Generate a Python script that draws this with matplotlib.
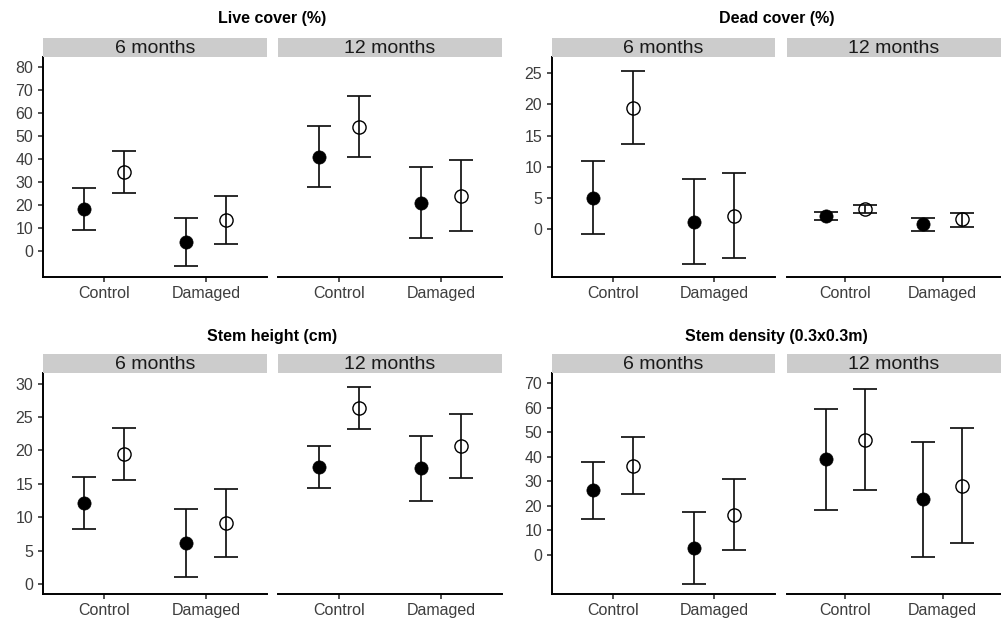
import numpy as np
import matplotlib
matplotlib.use("Agg")
import matplotlib.pyplot as plt

# ============================
# DATA
# order: 6m-Control, 6m-Damaged, 12m-Control, 12m-Damaged
# ============================
groups = ["Control", "Damaged"]
periods = ["6 months", "12 months"]

live_filled_mean = [18.1, 4.1, 41.0, 21.0]
live_filled_lo = [9.0, -6.4, 27.8, 5.7]
live_filled_hi = [27.2, 14.2, 54.2, 36.4]
live_open_mean = [34.2, 13.5, 53.9, 24.1]
live_open_lo = [25.1, 3.0, 40.9, 8.8]
live_open_hi = [43.5, 23.9, 67.1, 39.4]

dead_filled_mean = [5.1, 1.2, 2.1, 0.8]
dead_filled_lo = [-0.7, -5.6, 1.5, -0.3]
dead_filled_hi = [11.0, 8.0, 2.8, 1.9]
dead_open_mean = [19.4, 2.2, 3.2, 1.6]
dead_open_lo = [13.6, -4.5, 2.6, 0.4]
dead_open_hi = [25.3, 9.0, 3.9, 2.7]

height_filled_mean = [12.1, 6.1, 17.5, 17.3]
height_filled_lo = [8.2, 1.0, 14.4, 12.5]
height_filled_hi = [16.0, 11.2, 20.7, 22.1]
height_open_mean = [19.4, 9.1, 26.3, 20.6]
height_open_lo = [15.5, 4.0, 23.2, 15.8]
height_open_hi = [23.3, 14.2, 29.5, 25.4]

density_filled_mean = [26.3, 2.6, 38.9, 22.8]
density_filled_lo = [14.5, -12.0, 18.3, -0.8]
density_filled_hi = [37.9, 17.3, 59.6, 46.2]
density_open_mean = [36.4, 16.2, 46.9, 28.2]
density_open_lo = [24.7, 1.8, 26.3, 4.8]
density_open_hi = [48.2, 30.8, 67.5, 51.8]

panels = [
    ("Live cover (%)", (live_filled_mean, live_filled_lo, live_filled_hi),
     (live_open_mean, live_open_lo, live_open_hi), (-11.2, 84.2), np.arange(0, 81, 10)),
    ("Dead cover (%)", (dead_filled_mean, dead_filled_lo, dead_filled_hi),
     (dead_open_mean, dead_open_lo, dead_open_hi), (-7.6, 27.6), np.arange(0, 26, 5)),
    ("Stem height (cm)", (height_filled_mean, height_filled_lo, height_filled_hi),
     (height_open_mean, height_open_lo, height_open_hi), (-1.5, 31.6), np.arange(0, 31, 5)),
    ("Stem density (0.3x0.3m)", (density_filled_mean, density_filled_lo, density_filled_hi),
     (density_open_mean, density_open_lo, density_open_hi), (-16.1, 74.2), np.arange(0, 71, 10)),
]

# ============================
# LAYOUT (pixels)
# ============================
W, H = 1001, 619
plt.rcParams['font.family'] = ['Liberation Sans', 'DejaVu Sans']
fig = plt.figure(figsize=(W / 100, H / 100), dpi=100)

facet_x = [[(43, 267), (278, 502)], [(552, 775), (787, 1001)]]
rows = [dict(title_y=19, strip=(38, 57), bottom=277),
        dict(title_y=336, strip=(354, 373), bottom=594)]

def px_rect(x0, x1, ytop, ybot):
    return [x0 / W, 1 - ybot / H, (x1 - x0) / W, (ybot - ytop) / H]

for p, (title, filled, opened, ylim, yticks) in enumerate(panels):
    r, c = divmod(p, 2)
    row = rows[r]
    fx = facet_x[c]
    fig.text(((fx[0][0] + fx[1][1]) / 2) / W, 1 - row["title_y"] / H, title,
             ha="center", va="center", fontsize=11.5, fontweight="bold", color="black")
    for k, period in enumerate(periods):
        x0, x1 = fx[k]
        ax = fig.add_axes(px_rect(x0, x1, row["strip"][1], row["bottom"]))
        sax = fig.add_axes(px_rect(x0, x1, row["strip"][0], row["strip"][1]))
        sax.set_facecolor("#cccccc")
        sax.set_xticks([]); sax.set_yticks([])
        for s in sax.spines.values():
            s.set_visible(False)
        sax.text(0.5, 0.47, period, ha="center", va="center", fontsize=14,
                 color="#1a1a1a", transform=sax.transAxes)

        sl = slice(2 * k, 2 * k + 2)
        xs = np.arange(1, len(groups) + 1)
        for (mean, lo, hi), dx, face in [(filled, -0.2, "black"), (opened, 0.2, "none")]:
            m = np.array(mean[sl]); l = np.array(lo[sl]); h = np.array(hi[sl])
            ax.errorbar(xs + dx, m, yerr=[m - l, h - m], fmt="none", ecolor="#111111",
                        elinewidth=1.25, capsize=8.9, capthick=1.25, zorder=2)
            ax.plot(xs + dx, m, "o", markersize=9.5, markerfacecolor=face,
                    markeredgecolor="black", markeredgewidth=1.0 if face == "none" else 0.5,
                    linestyle="none", zorder=3)

        ax.set_xlim(0.4, 2.6)
        ax.set_ylim(*ylim)
        ax.set_xticks(xs)
        ax.set_xticklabels(groups)
        ax.set_yticks(yticks)
        for s in ["top", "right"]:
            ax.spines[s].set_visible(False)
        ax.spines["bottom"].set_linewidth(1.4)
        ax.spines["left"].set_linewidth(1.4)
        ax.tick_params(axis="both", length=3.6, width=1.2, color="#333333",
                       labelsize=11.5, labelcolor="#3d3d3d")
        ax.tick_params(axis="y", pad=3.5)
        ax.tick_params(axis="x", pad=3.0)
        if k == 1:
            ax.spines["left"].set_visible(False)
            ax.tick_params(axis="y", left=False, labelleft=False)
        ax.set_facecolor("white")

fig.savefig("out.png", dpi=100)
